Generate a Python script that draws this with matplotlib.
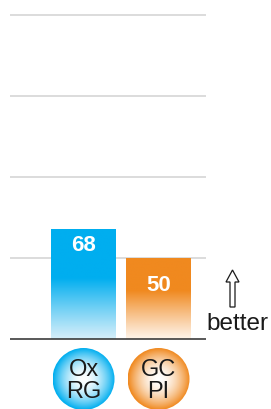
import numpy as np
import matplotlib
matplotlib.use("Agg")
import matplotlib.pyplot as plt
from matplotlib.colors import to_rgb
from matplotlib.patches import Rectangle, Circle, FancyArrow

plt.rcParams["font.family"] = ["Liberation Sans", "DejaVu Sans"]

# data
categories = ["Ox\nRG", "GC\nPI"]
values = [68, 50]
grid_ticks = [50, 100, 150, 200]
bar_colors = ["#00AEEF", "#F0891F"]
bar_fades = ["#D4EEFA", "#FEF3E8"]

W, H = 271, 409
fig = plt.figure(figsize=(W / 100, H / 100), dpi=100)

# main axes: x in category units (75 px each), y in value units (1.62 px each)
ax = fig.add_axes([0, 0, 1, 1])
ax.set_xlim(-83.5 / 75, (W - 83.5) / 75)
ax.set_ylim(-70 / 1.62, (H - 70) / 1.62)
ax.axis("off")

x_lo, x_hi = (10 - 83.5) / 75, (206 - 83.5) / 75
ax.hlines(grid_ticks, x_lo, x_hi, color="#D6D6D6", lw=1.2, zorder=1)
ax.hlines(0, x_lo, x_hi, color="#2B2B2B", lw=1.1, zorder=4)

bar_w = 65 / 75
label_drop = [10, 17]
for i, (v, c, f) in enumerate(zip(values, bar_colors, bar_fades)):
    x0 = i - bar_w / 2
    rect = Rectangle((x0, 0), bar_w, v, facecolor="none", edgecolor="none")
    ax.add_patch(rect)
    # vertical gradient: solid at top, fading near the base
    t = np.linspace(0, 1, 200)[:, None]  # 0 = bottom, 1 = top
    knee = 0.55 if i == 0 else 0.6
    w = np.clip(t / knee, 0, 1) ** 1.1
    c0, c1 = np.array(to_rgb(f)), np.array(to_rgb(c))
    img = c0[None, None, :] * (1 - w[..., None]) + c1[None, None, :] * w[..., None]
    img = np.repeat(img, 2, axis=1)
    im = ax.imshow(img, extent=(x0, x0 + bar_w, 0, v), origin="lower",
                   aspect="auto", zorder=2, interpolation="bilinear")
    im.set_clip_path(rect)
    ax.text(i, v - label_drop[i], str(v), color="white",
            fontsize=16, fontweight="bold", ha="center", va="center", zorder=3)

# overlay axes in pixel coords (y down) for circle badges and the "better" hint
ov = fig.add_axes([0, 0, 1, 1])
ov.set_xlim(0, W)
ov.set_ylim(H, 0)
ov.axis("off")

yy, xx = np.mgrid[-1:1:200j, -1:1:200j]
r = np.clip(np.sqrt(xx ** 2 + yy ** 2), 0, 1)
for i, (lab, c) in enumerate(zip(categories, bar_colors)):
    cx = ax.transData.transform((i, 0))[0]
    cy, rad = 379, 31
    circ = Circle((cx, cy), rad, facecolor="none", edgecolor="none")
    ov.add_patch(circ)
    wgt = np.clip(r ** 1.8, 0, 1)
    col = np.array(to_rgb(c))
    img = np.ones((200, 200, 3)) * (1 - wgt[..., None]) + col * wgt[..., None]
    im = ov.imshow(img, extent=(cx - rad, cx + rad, cy + rad, cy - rad),
                   aspect="auto", zorder=2, interpolation="bilinear")
    im.set_clip_path(circ)
    ov.text(cx, cy + 2, lab, ha="center", va="center", fontsize=17,
            linespacing=0.95, color="#1A1A1A", zorder=3)

ov.add_patch(FancyArrow(232.5, 307, 0, -37, width=5, head_width=13,
                        head_length=12, length_includes_head=True,
                        facecolor="white", edgecolor="#1A1A1A", lw=0.9, zorder=3))
ov.text(237, 324, "better", ha="center", va="center", fontsize=17.5,
        color="#1A1A1A")
ov.set_xlim(0, W)
ov.set_ylim(H, 0)

fig.savefig("out.png", dpi=100)
